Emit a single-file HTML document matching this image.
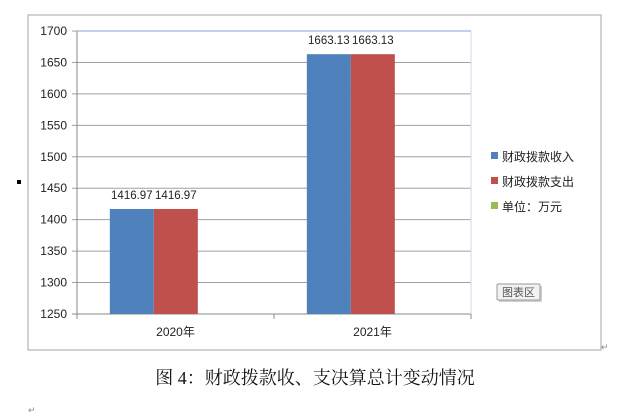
<!DOCTYPE html>
<html><head><meta charset="utf-8"><style>
body{margin:0;width:640px;height:417px;background:#fff;font-family:"Liberation Sans","Noto Sans CJK SC",sans-serif;overflow:hidden}
</style></head><body>
<svg width="640" height="417" style="position:absolute;left:0;top:0">
<rect x="28" y="15" width="573" height="335" fill="#fff" stroke="#a6a6a6"/>
<rect x="17" y="180" width="4" height="4" fill="#000"/>
<g id="grid"></g>
<g id="bars"></g>
<g id="labels"></g>
<g font-size="12" fill="#222">
<rect x="491" y="152" width="7" height="7" fill="#4f81bd"/>
<text x="502" y="161">财政拨款收入</text>
<rect x="491" y="177" width="7" height="7" fill="#c0504d"/>
<text x="502" y="186">财政拨款支出</text>
<rect x="491" y="202" width="7" height="7" fill="#9bbb59"/>
<text x="502" y="211">单位：万元</text>
</g>
<g>
<rect x="499" y="286" width="43" height="16" fill="#888" opacity="0.4"/>
<rect x="497" y="284" width="43" height="16" fill="#f2f2f5" stroke="#999" rx="1"/>
<text x="518.5" y="296" font-size="11" fill="#555" text-anchor="middle">图表区</text>
</g>
<text x="315" y="384" font-size="18" text-anchor="middle" fill="#111" font-family="'Liberation Serif','Noto Serif CJK SC',serif">图 4：财政拨款收、支决算总计变动情况</text>
<text x="601" y="350" font-size="9" fill="#888">↵</text>
<text x="28" y="413" font-size="9" fill="#888">↵</text>
</svg>
<script>
const categories=["2020年","2021年"];
const income=[1416.97,1663.13];
const expense=[1416.97,1663.13];
const yTicks=[1250,1300,1350,1400,1450,1500,1550,1600,1650,1700];
const NS="http://www.w3.org/2000/svg";
const L=77,R=471,T=31,B=314,ymin=1250,ymax=1700;
const y=v=>B-(v-ymin)/(ymax-ymin)*(B-T);
const band=(R-L)/categories.length;
function mk(tag,attrs,parent){const e=document.createElementNS(NS,tag);for(const k in attrs)e.setAttribute(k,attrs[k]);document.getElementById(parent).appendChild(e);return e;}
yTicks.forEach(t=>{
 const g=mk('line',{x1:L-5,x2:R,y1:y(t),y2:y(t),stroke:t===ymin?'#888':'#a0a0a0','stroke-width':1},'grid');
 
 
 const tx=mk('text',{x:L-10,y:y(t)+4,'font-size':12,'text-anchor':'end',fill:'#222'},'grid');
 tx.textContent=t;
 
 
});
let ax=mk('line',{x1:L,x2:L,y1:T,y2:B+4,stroke:'#888'},'grid');


let tb=mk('line',{x1:L,x2:R,y1:T,y2:T,stroke:'#a8c4e8','stroke-width':1.5},'grid');


let rb=mk('line',{x1:R,x2:R,y1:T,y2:B+4,stroke:'#c8d8ee'},'grid');


for(let i=0;i<=categories.length;i++){
 const tk=mk('line',{x1:L+i*band,x2:L+i*band,y1:B,y2:B+5,stroke:'#888'},'grid');
 
 
}
const bw=44;
categories.forEach((c,i)=>{
 const cx=L+i*band+band*0.39;
 [[income,'#4f81bd',-bw],[expense,'#c0504d',0]].forEach(([arr,col,off],s)=>{
  const v=arr[i];
  const r=mk('rect',{x:cx+off,y:y(v),width:bw,height:B-y(v),fill:col},'bars');
  
  
  const t=mk('text',{x:cx+off+bw/2,y:y(v)-10,'font-size':11.5,'text-anchor':'middle',fill:'#222'},'labels');
  t.textContent=v.toFixed(2);
  
  
 });
 const xl=mk('text',{x:L+i*band+band/2,y:B+22,'font-size':12,'text-anchor':'middle',fill:'#222'},'labels');
 xl.textContent=c;
 
 
});
</script>
</body></html>
